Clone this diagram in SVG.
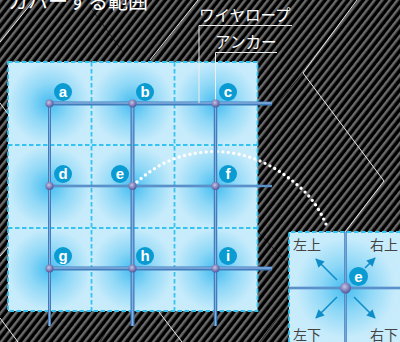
<svg xmlns="http://www.w3.org/2000/svg" width="400" height="342" viewBox="0 0 400 342">
<style>
.jw{font-family:"Noto Sans CJK JP","Noto Sans",sans-serif;fill:#fff}
.jd{font-family:"Noto Sans CJK JP","Noto Sans",sans-serif;fill:#444;font-size:14px}
.bw{fill:none;stroke:#e8e8e8;stroke-width:1}
.bk{fill:none;stroke:#000;stroke-width:0.600}
.dash{fill:none;stroke:#36c3ef;stroke-width:1.800;stroke-dasharray:4.500 2.500}
.badge{fill:#0a9bd2}
.bl{font-family:"Liberation Sans",Arial,sans-serif;font-weight:700;font-size:15px;fill:#fff;text-anchor:middle}
.rt{stroke:#3f7dbd;fill:none}
.hl{stroke:#86aede;fill:none}
.arrow{stroke:#0e8dc8;stroke-width:1.600;fill:none;marker-end:url(#ah)}
</style>
<defs>
<pattern id="stripes" width="6" height="6" patternUnits="userSpaceOnUse" patternTransform="rotate(-52)">
<rect width="6" height="6" fill="#000"/>
<rect width="6" height="2.500" fill="#6a6a6a"/>
</pattern>
<radialGradient id="g" cx="0.5" cy="0.5" r="0.62">
<stop offset="0" stop-color="#45bdf0"/>
<stop offset="0.4" stop-color="#8fd8f7"/>
<stop offset="0.8" stop-color="#c6ebfb"/>
<stop offset="1" stop-color="#c9ecfb"/>
</radialGradient>
<pattern id="cell" x="8" y="62" width="83" height="83" patternUnits="userSpaceOnUse">
<rect width="83" height="83" fill="url(#g)"/>
</pattern>
<radialGradient id="g2" gradientUnits="userSpaceOnUse" cx="345.500" cy="288" r="62">
<stop offset="0" stop-color="#45bdf0"/>
<stop offset="0.4" stop-color="#8fd8f7"/>
<stop offset="0.8" stop-color="#c6ebfb"/>
<stop offset="1" stop-color="#c9ecfb"/>
</radialGradient>
<radialGradient id="ball" cx="0.42" cy="0.38" r="0.65">
<stop offset="0" stop-color="#c5c5e2"/>
<stop offset="0.6" stop-color="#7d7db8"/>
<stop offset="1" stop-color="#4f5494"/>
</radialGradient>
<marker id="ah" viewBox="0 0 10 10" refX="9" refY="5" markerWidth="5.500" markerHeight="5.500" markerUnits="strokeWidth" orient="auto">
<path d="M0 0L10 5L0 10Z" fill="#0e8dc8"/>
</marker>
</defs>
<rect id="background" width="400" height="342" fill="url(#stripes)"/>
<g id="background-lines">
<path class="bw" d="M0 42L34 0M150 60L198 0M357 0L303 73L384 181L345 232M0 103L8 114M0 256L8 247M0 318L18 342M159 312L182 342"/>
<path class="bk" d="M90 7L123 52M257 128L303 73M258 232L288 264M288 304L260 342M117 313L100 342"/>
</g>
<text id="title" class="jw" x="8" y="9" font-size="20">カバーする範囲</text>
<g id="panel">
<rect x="8" y="62" width="249.500" height="249" fill="url(#cell)"/>
<path class="dash" d="M8 62H257.500V311H8ZM91.500 62V311M174.500 62V311M8 145H257.500M8 228H257.500"/>
</g>
<g id="inset">
<rect x="289" y="232" width="111" height="110" fill="url(#g2)"/>
<path class="dash" d="M289 342V232H400"/>
</g>
<g id="connectors">
<path id="arc" d="M137 182C155 166 178 152 215 151.500C255 152 285 172 307 194C316 204 323 216 328 229" fill="none" stroke="#fff" stroke-width="3.400" stroke-linecap="round" stroke-dasharray="0 5.500"/>
<g id="ropes">
<path class="rt" stroke-width="3" d="M49.500 103.500V326"/>
<path class="hl" stroke-width="1" d="M49.500 103.500V326"/>
<path class="rt" stroke-width="4" d="M132.500 103.500V326"/>
<path class="hl" stroke-width="1.500" d="M132.500 103.500V326"/>
<path class="rt" stroke-width="3.500" d="M215.500 103.500V326"/>
<path class="hl" stroke-width="1" d="M215.500 103.500V326"/>
<path class="rt" stroke-width="4" d="M49.500 103.500H272"/>
<path class="hl" stroke-width="1.500" d="M49.500 103H272"/>
<path class="rt" stroke-width="2.500" d="M49.500 186H272"/>
<path class="hl" stroke-width="0.800" d="M49.500 186H272"/>
<path class="rt" stroke-width="4" d="M49.500 268.500H272"/>
<path class="hl" stroke-width="1.500" d="M49.500 268H272"/>
<path class="rt" stroke-width="2.500" d="M345.500 232V342M289 288H400"/>
<path class="hl" stroke-width="0.800" d="M345.500 232V342M289 288H400"/>
</g>
<path id="leader-wire" d="M292 25.500H199V103" fill="none" stroke="#eee" stroke-width="1"/>
<path id="leader-anchor" d="M277 52.500H215.500V103" fill="none" stroke="#eee" stroke-width="1"/>
<g id="arrows">
<path class="arrow" d="M337 280L316 259"/>
<path class="arrow" d="M365 268L375 258"/>
<path class="arrow" d="M337 297L316 318"/>
<path class="arrow" d="M354 297L375 318"/>
</g>
</g>
<g id="node-a"><circle class="badge" cx="63" cy="92" r="9"/><text class="bl" x="63" y="97">a</text><circle cx="49.500" cy="103.500" r="4" fill="url(#ball)"/></g>
<g id="node-b"><circle class="badge" cx="145" cy="92" r="9"/><text class="bl" x="145" y="97">b</text><circle cx="132.500" cy="103.500" r="4" fill="url(#ball)"/></g>
<g id="node-c"><circle class="badge" cx="228" cy="92" r="9"/><text class="bl" x="228" y="97">c</text><circle cx="215.500" cy="103.500" r="4" fill="url(#ball)"/></g>
<g id="node-d"><circle class="badge" cx="63" cy="174" r="9"/><text class="bl" x="63" y="179">d</text><circle cx="49.500" cy="186" r="4" fill="url(#ball)"/></g>
<g id="node-e"><circle class="badge" cx="120" cy="174" r="9"/><text class="bl" x="120" y="179">e</text><circle cx="132.500" cy="186" r="4" fill="url(#ball)"/></g>
<g id="node-f"><circle class="badge" cx="228" cy="174" r="9"/><text class="bl" x="228" y="179">f</text><circle cx="215.500" cy="186" r="4" fill="url(#ball)"/></g>
<g id="node-g"><circle class="badge" cx="63" cy="256" r="9"/><text class="bl" x="63" y="261">g</text><circle cx="49.500" cy="268.500" r="4" fill="url(#ball)"/></g>
<g id="node-h"><circle class="badge" cx="145" cy="256" r="9"/><text class="bl" x="145" y="261">h</text><circle cx="132.500" cy="268.500" r="4" fill="url(#ball)"/></g>
<g id="node-i"><circle class="badge" cx="228" cy="256" r="9"/><text class="bl" x="228" y="261">i</text><circle cx="215.500" cy="268.500" r="4" fill="url(#ball)"/></g>
<g id="node-e-detail"><circle class="badge" cx="358.500" cy="276.500" r="9.500"/><text class="bl" x="358.500" y="282" font-size="16">e</text><circle cx="345.500" cy="288" r="5.500" fill="url(#ball)"/></g>
<g id="labels">
<text class="jw" x="199" y="21" font-size="15.500">ワイヤロープ</text>
<text class="jw" x="215" y="48" font-size="15.500">アンカー</text>
<text class="jd" x="293" y="250">左上</text>
<text class="jd" x="370" y="250">右上</text>
<text class="jd" x="293" y="340">左下</text>
<text class="jd" x="370" y="340">右下</text>
</g>
</svg>
